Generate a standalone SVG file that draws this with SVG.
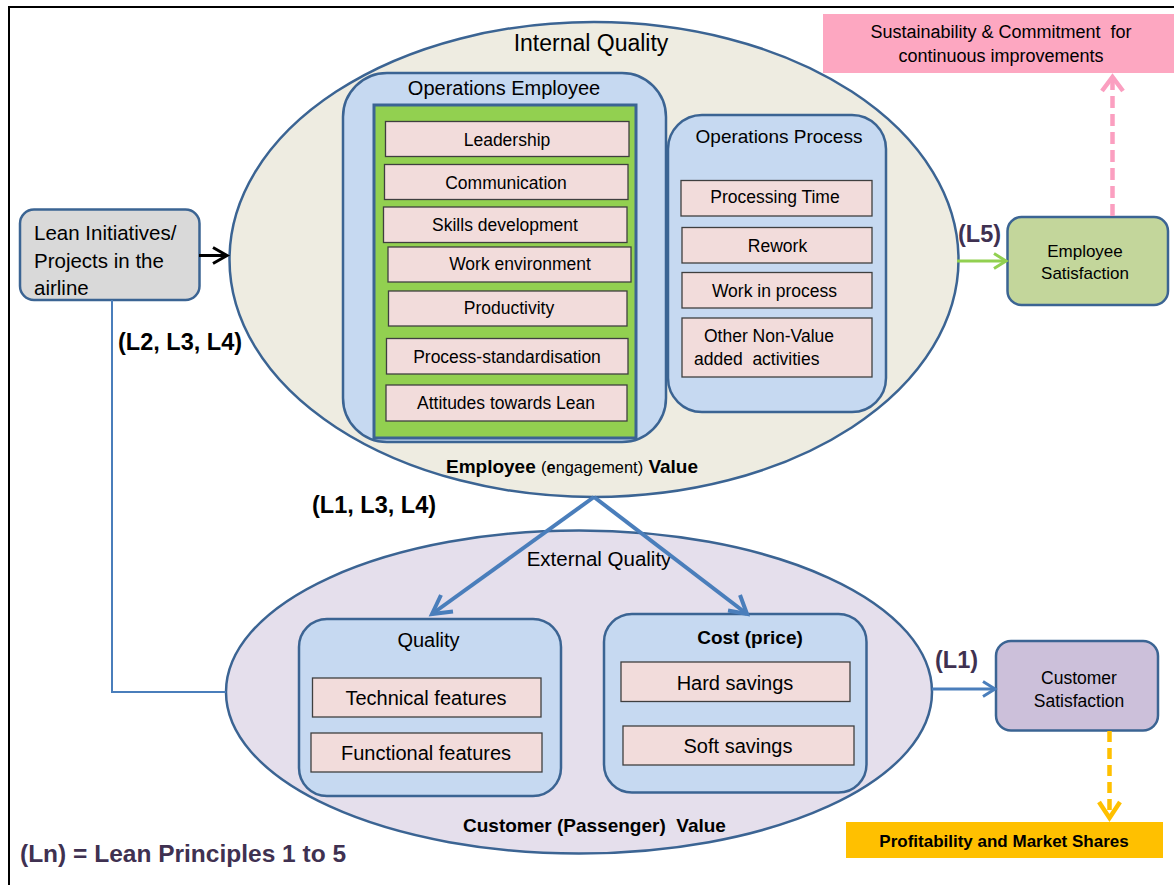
<svg xmlns="http://www.w3.org/2000/svg" width="1174" height="885" viewBox="0 0 1174 885">
<defs>
<style>
text{font-family:"Liberation Sans",Arial,sans-serif;fill:#000}
.c{text-anchor:middle}
.b{font-weight:bold}
.item{fill:#f2dcdb;stroke:#3f3f3f;stroke-width:1.3}
.box{fill:#c6d9f1;stroke:#3b6493;stroke-width:2.5}
.it{font-size:17.5px}
.big{font-size:20px}
.lab{font-weight:bold;font-size:23.5px}
.pur{fill:#3f3151}
.conn{fill:none;stroke-linecap:butt}
.head{fill:none;stroke-linejoin:miter;stroke-linecap:butt}
</style>
</defs>
<rect x="9" y="7" width="1200" height="900" fill="#fff" stroke="#000" stroke-width="2"/>

<g id="internal-quality">
<ellipse cx="594" cy="259.5" rx="364.5" ry="237.5" fill="#eeece1" stroke="#3b6493" stroke-width="2.5"/>
<text x="591" y="51" class="c" font-size="23">Internal Quality</text>
<text x="446" y="473" class="b" font-size="19">Employee <tspan font-weight="normal" font-size="16.4">(<tspan font-weight="bold">e</tspan>ngagement)</tspan> Value</text>
</g>

<g id="operations-employee">
<rect x="343" y="73" width="323" height="369" rx="44" class="box"/>
<text x="504" y="95" class="c" font-size="20">Operations Employee</text>
<rect x="374" y="105" width="262" height="333" fill="#92d050" stroke="#3b6493" stroke-width="3"/>
<rect x="385.5" y="121.5" width="243.5" height="35" class="item"/>
<text x="507" y="146" class="c it">Leadership</text>
<rect x="384.5" y="164.5" width="243.5" height="35" class="item"/>
<text x="506" y="189" class="c it">Communication</text>
<rect x="383.5" y="207" width="243.5" height="35.5" class="item"/>
<text x="505" y="231" class="c it">Skills development</text>
<rect x="388" y="247" width="243" height="35" class="item"/>
<text x="520" y="270" class="c it">Work environment</text>
<rect x="388.5" y="291" width="238.5" height="35" class="item"/>
<text x="509" y="314" class="c it">Productivity</text>
<rect x="386.5" y="338.5" width="241.5" height="35.5" class="item"/>
<text x="507" y="362.5" class="c it">Process-standardisation</text>
<rect x="386" y="385" width="241" height="36" class="item"/>
<text x="506" y="409" class="c it">Attitudes towards Lean</text>
</g>

<g id="operations-process">
<rect x="668" y="115" width="218" height="297" rx="34" class="box"/>
<text x="779" y="143" class="c" font-size="19">Operations Process</text>
<rect x="681" y="180.5" width="191" height="35.5" class="item"/>
<text x="775" y="203" class="c it">Processing Time</text>
<rect x="682" y="227.5" width="190" height="35.5" class="item"/>
<text x="777.5" y="251.5" class="c it">Rework</text>
<rect x="682" y="272.5" width="190" height="35.5" class="item"/>
<text x="774.5" y="296.5" class="c it">Work in process</text>
<rect x="682" y="318" width="190" height="59" class="item"/>
<text x="769" y="341.5" class="c it">Other Non-Value</text>
<text x="694" y="365" class="it" xml:space="preserve">added  activities</text>
</g>

<g id="external-quality">
<ellipse cx="579" cy="692" rx="353" ry="161.5" fill="#e5dfec" stroke="#3b6493" stroke-width="2.5"/>
<text x="599" y="566" class="c" font-size="20.5">External Quality</text>
<text x="463" y="832" class="b" font-size="19" xml:space="preserve">Customer (Passenger)  Value</text>
</g>

<g id="quality">
<rect x="299" y="619" width="262" height="177" rx="28" class="box"/>
<text x="428.5" y="647" class="c big">Quality</text>
<rect x="312.5" y="678" width="228.5" height="39" class="item"/>
<text x="426" y="705" class="c big">Technical features</text>
<rect x="311" y="733" width="231" height="39" class="item"/>
<text x="426" y="760" class="c big">Functional features</text>
</g>

<g id="cost">
<rect x="604" y="614" width="262.5" height="178.5" rx="28" class="box"/>
<text x="750" y="644" class="c b" font-size="19">Cost (price)</text>
<rect x="621" y="662" width="229" height="39.5" class="item"/>
<text x="735" y="690" class="c big">Hard savings</text>
<rect x="623" y="726" width="231" height="39" class="item"/>
<text x="738" y="753" class="c big">Soft savings</text>
</g>

<g id="lean-initiatives">
<rect x="20" y="209.5" width="179.5" height="90.5" rx="14" fill="#d9d9d9" stroke="#3b6493" stroke-width="2.5"/>
<text x="34" y="240" font-size="20.5">Lean Initiatives/</text>
<text x="34" y="268" font-size="20.5">Projects in the</text>
<text x="34" y="295" font-size="20.5">airline</text>
</g>

<g id="employee-satisfaction">
<rect x="1007.5" y="217" width="160.5" height="88" rx="14" fill="#c3d69b" stroke="#3b6493" stroke-width="2.5"/>
<text x="1085" y="257" class="c" font-size="17">Employee</text>
<text x="1085" y="279" class="c" font-size="17">Satisfaction</text>
</g>

<g id="customer-satisfaction">
<rect x="996" y="641" width="162" height="89.5" rx="15" fill="#ccc0da" stroke="#3b6493" stroke-width="2.5"/>
<text x="1079" y="684" class="c" font-size="17.5">Customer</text>
<text x="1079" y="707" class="c" font-size="17.5">Satisfaction</text>
</g>

<g id="sustainability">
<rect x="823" y="14" width="360" height="59" fill="#fda7c1"/>
<text x="1001" y="38" class="c" font-size="18" xml:space="preserve">Sustainability &amp; Commitment  for</text>
<text x="1001" y="62" class="c" font-size="18">continuous improvements</text>
</g>

<g id="profitability">
<rect x="846" y="822" width="317" height="36" fill="#ffc000"/>
<text x="1004" y="847" class="c b" font-size="17">Profitability and Market Shares</text>
</g>

<g id="connectors">
<line x1="199" y1="255.5" x2="227" y2="255.5" class="conn" stroke="#000" stroke-width="3"/>
<path d="M213,247.5 L227,255.5 L213,263.5" class="head" stroke="#000" stroke-width="3"/>

<polyline points="112,300 112,692 226,692" class="conn" stroke="#4a7ebb" stroke-width="2"/>

<line x1="594" y1="497" x2="432" y2="614" class="conn" stroke="#4a7ebb" stroke-width="4"/>
<path d="M441,595 L432,614 L453,611.5" class="head" stroke="#4a7ebb" stroke-width="4"/>
<line x1="594" y1="497" x2="747" y2="614" class="conn" stroke="#4a7ebb" stroke-width="4"/>
<path d="M740,595 L747,614 L728,610.5" class="head" stroke="#4a7ebb" stroke-width="4"/>

<line x1="932" y1="689" x2="995" y2="689" class="conn" stroke="#4a7ebb" stroke-width="3"/>
<path d="M983,681.5 L995,689 L983,696.5" class="head" stroke="#4a7ebb" stroke-width="3"/>

<line x1="957" y1="261" x2="1006" y2="261" class="conn" stroke="#92d050" stroke-width="3"/>
<path d="M994,253.5 L1006,261 L994,268.5" class="head" stroke="#92d050" stroke-width="3"/>

<line x1="1112.5" y1="216" x2="1112.5" y2="78" class="conn" stroke="#fb9fc0" stroke-width="4.5" stroke-dasharray="12 6"/>
<path d="M1102,91 L1112.5,77 L1123,91" class="head" stroke="#fb9fc0" stroke-width="4.5"/>

<line x1="1109.5" y1="731" x2="1109.5" y2="818" class="conn" stroke="#ffc000" stroke-width="4.5" stroke-dasharray="11 6"/>
<path d="M1099,802 L1109.5,818 L1120,802" class="head" stroke="#ffc000" stroke-width="4.5"/>
</g>

<g id="labels">
<text x="958" y="242" class="lab pur">(L5)</text>
<text x="935" y="668" class="lab pur">(L1)</text>
<text x="118" y="350" class="lab">(L2, L3, L4)</text>
<text x="312" y="513" class="lab">(L1, L3, L4)</text>
<text x="20" y="862" class="pur b" font-size="24.5">(Ln) = Lean Principles 1 to 5</text>
</g>
</svg>
